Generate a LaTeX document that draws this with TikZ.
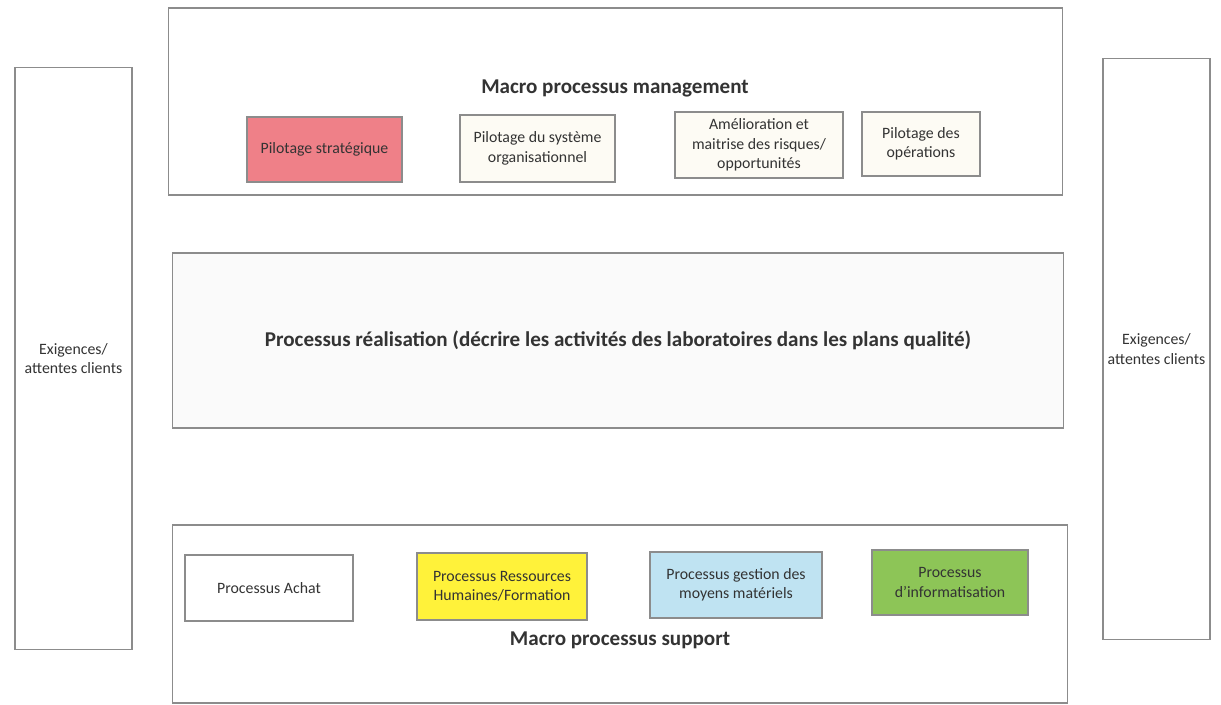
\documentclass[tikz,border=0pt]{standalone}
\usepackage{fontspec}
\setmainfont{Carlito}
\usepackage{xcolor}
\definecolor{strat}{HTML}{EF8088}
\definecolor{rhyel}{HTML}{FFF23A}
\definecolor{gestblue}{HTML}{BFE3F2}
\definecolor{infogreen}{HTML}{8DC557}
\definecolor{cream}{HTML}{FDFBF4}
\definecolor{txt}{HTML}{333333}
\tikzset{
  frame/.style={draw=black!45, line width=0.6pt, fill=white},
  proc/.style={draw=black!45, line width=0.6pt, fill=cream, align=center, text=txt,
    font=\fontsize{9}{11}\selectfont, inner sep=2pt},
  head/.style={font=\fontsize{12}{14}\selectfont\bfseries, text=txt}
}
\begin{document}
\begin{tikzpicture}[x=0.02cm, y=-0.02cm]
	\useasboundingbox (0,0) rectangle (1221,705);
	% macro processus management
	\node[frame, minimum width=17.9cm, minimum height=3.74cm] (mgmt) at (615.5,101.5) {};
	\node[head] (mgmttitle) at (615,88) {Macro processus management};
	\node[proc, fill=strat, minimum width=3.1cm, minimum height=1.3cm] (pstrat) at (324.5,149.5) {Pilotage stratégique};
	\node[proc, minimum width=3.1cm, minimum height=1.34cm] (psys) at (537.5,148.5) {Pilotage du système\\organisationnel};
	\node[proc, minimum width=3.36cm, minimum height=1.32cm] (amel) at (759,145) {Amélioration et\\maitrise des risques/\\opportunités};
	\node[proc, minimum width=2.36cm, minimum height=1.28cm] (pops) at (921,144) {Pilotage des\\opérations};
	% processus realisation
	\node[frame, head, fill=black!2, minimum width=17.84cm, minimum height=3.5cm] (real) at (618,340.5)
		{Processus réalisation (décrire les activités des laboratoires dans les plans qualité)};
	% macro processus support
	\node[frame, minimum width=17.92cm, minimum height=3.56cm] (supp) at (620,614) {};
	\node[proc, fill=white, minimum width=3.36cm, minimum height=1.32cm] (achat) at (269,588) {Processus Achat};
	\node[proc, fill=rhyel, minimum width=3.4cm, minimum height=1.34cm] (rh) at (502,586.5) {Processus Ressources\\Humaines/Formation};
	\node[proc, fill=gestblue, minimum width=3.44cm, minimum height=1.32cm] (gest) at (736,585) {Processus gestion des\\moyens matériels};
	\node[proc, fill=infogreen, minimum width=3.12cm, minimum height=1.3cm] (info) at (950,582.5) {Processus\\d'informatisation};
	\node[head] (supptitle) at (620,640) {Macro processus support};
	% exigences clients
	\node[frame, proc, fill=white, minimum width=2.34cm, minimum height=11.66cm] (exleft) at (73.5,358.5) {Exigences/\\attentes clients};
	\node[frame, proc, fill=white, minimum width=2.14cm, minimum height=11.64cm] (exright) at (1156.5,349) {Exigences/\\attentes clients};
\end{tikzpicture}
\end{document}
